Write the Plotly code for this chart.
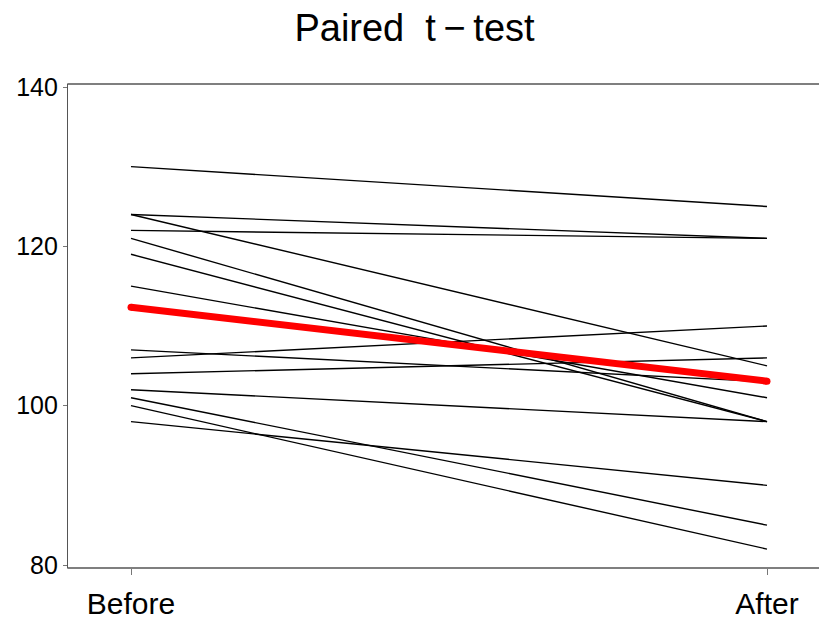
import plotly.graph_objects as go

conditions = ["Before", "After"]
before = [130, 124, 124, 122, 121, 119, 115, 107, 106, 104, 102, 101, 100, 98]
after = [125, 121, 105, 121, 98, 98, 101, 103, 110, 106, 98, 85, 82, 90]
y_ticks = [80, 100, 120, 140]

mean_before = sum(before) / len(before)
mean_after = sum(after) / len(after)

fig = go.Figure()
for b, a in zip(before, after):
    fig.add_trace(go.Scatter(
        x=conditions, y=[b, a], mode="lines",
        line=dict(color="black", width=1.4),
        showlegend=False, hoverinfo="skip"))

fig.add_trace(go.Scatter(
    x=conditions, y=[mean_before, mean_after], mode="lines+markers",
    line=dict(color="#ff0000", width=7),
    marker=dict(color="#ff0000", size=7, line=dict(width=0)),
    showlegend=False, hoverinfo="skip"))

font_family = "Liberation Sans, Arial, Helvetica, sans-serif"

W, H = 821, 620
ML, MR = 68, 30
plot_w = W - ML - MR
x_end = (819 - ML) / plot_w  # frame lines run almost to the window's right edge
x_start = -0.7 / plot_w

frame = dict(color="#555555", width=1.3)

fig.update_layout(
    width=W, height=H,
    margin=dict(l=ML, r=MR, t=84, b=52, autoexpand=False),
    paper_bgcolor="white", plot_bgcolor="white",
    font=dict(family=font_family, color="black"),
    title=dict(text="Paired\u00a0\u00a0t\u2009\u2212\u2009test", x=414.5/W, xanchor="center",
               y=1 - 41/H, yanchor="bottom",
               font=dict(size=38, family=font_family, color="black")),
    xaxis=dict(type="category", range=[-63/636, 1 + 24/636], automargin=False,
               showgrid=False, zeroline=False, mirror=False,
               showline=False,
               ticks="outside", ticklen=6, tickwidth=1, tickcolor="#777777",
               tickfont=dict(size=30, color="black"),
               ticklabelstandoff=3),
    yaxis=dict(range=[80 - 3/7.97, 140 + 3/7.97], automargin=False,
               tickvals=y_ticks, ticktext=[str(v) for v in y_ticks],
               showgrid=False, zeroline=False, mirror=False,
               showline=True, linecolor="#555555", linewidth=1.3,
               ticks="outside", ticklen=4, tickwidth=1, tickcolor="#777777",
               tickfont=dict(size=25, color="black")),
    shapes=[
        dict(type="line", xref="paper", yref="paper", x0=x_start, x1=x_end, y0=1, y1=1, line=frame),
        dict(type="line", xref="paper", yref="paper", x0=x_start, x1=x_end, y0=0, y1=0, line=frame),
    ],
)

fig.write_html(
    "out.html",
    config={"displayModeBar": False},
    post_script="document.body.style.margin='0';document.documentElement.style.overflow='hidden';document.body.style.overflow='hidden';",
)
